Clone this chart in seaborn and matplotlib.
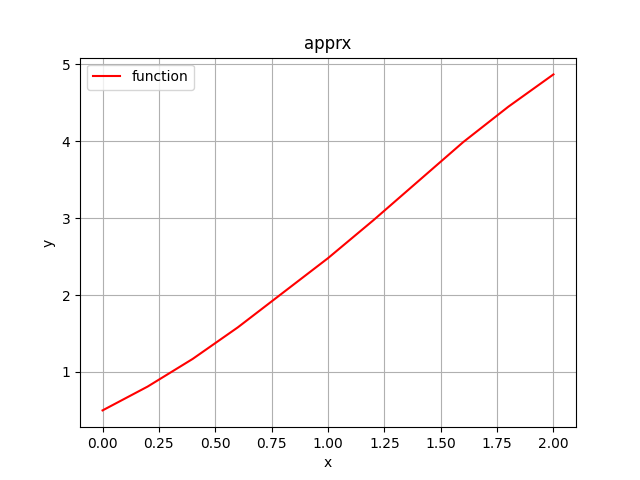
import matplotlib
matplotlib.use("Agg")
import matplotlib.pyplot as plt
import seaborn as sns
import pandas as pd

x_vals = [0.0, 0.2, 0.4, 0.6, 0.8, 1.0, 1.2, 1.4, 1.6, 1.8, 2.0]
y_vals = [0.5, 0.81, 1.17, 1.58, 2.03, 2.48, 2.97, 3.48, 3.99, 4.45, 4.87]

df = pd.DataFrame({'x': x_vals, 'y': y_vals})

fig, ax = plt.subplots(figsize=(6.4, 4.8), dpi=100)
sns.lineplot(data=df, x='x', y='y', color='red', label='function', ax=ax)
ax.set_title('apprx')
ax.set_xlabel('x')
ax.set_ylabel('y')
ax.grid(True)
ax.legend(loc='upper left')
fig.savefig('out.png')
